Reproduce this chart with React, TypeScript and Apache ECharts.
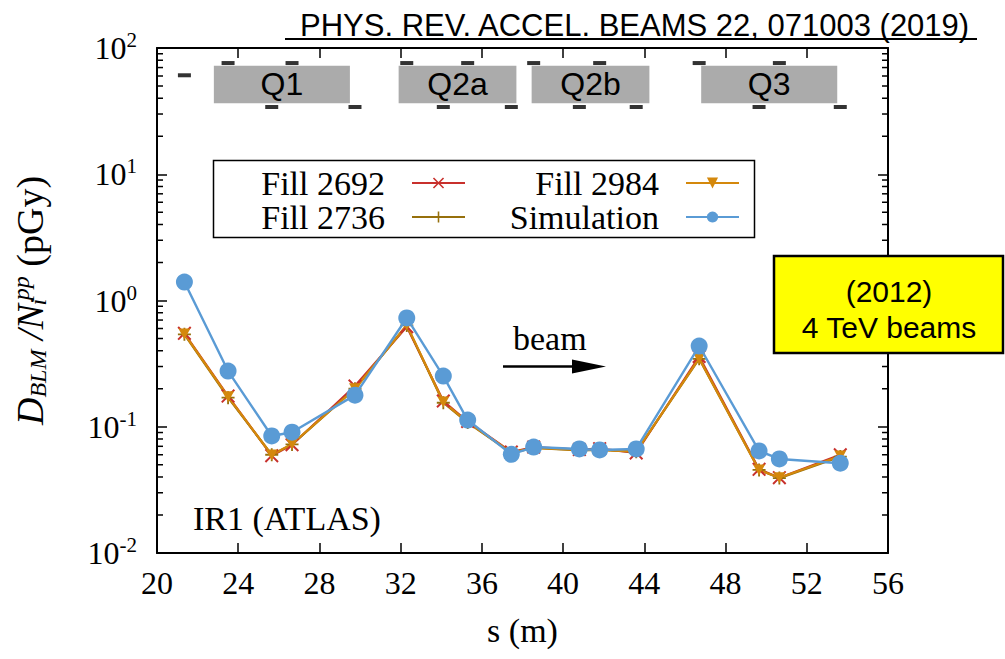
import React, { useEffect, useRef } from 'react';
import * as echarts from 'echarts';

// BLM longitudinal positions s (m)
const sPositions = [21.35, 23.5, 25.65, 26.65, 29.75, 32.3, 34.1, 35.3, 37.45, 38.55, 40.8, 41.8, 43.6, 46.7, 49.65, 50.65, 53.65];
// Dose per collision (pGy)
const fill2692 = [0.55, 0.175, 0.059, 0.072, 0.21, 0.62, 0.16, 0.11, 0.063, 0.069, 0.066, 0.067, 0.062, 0.36, 0.046, 0.0395, 0.06];
const fill2736 = [0.54, 0.17, 0.06, 0.0725, 0.2, 0.635, 0.155, 0.108, 0.062, 0.068, 0.065, 0.0655, 0.0635, 0.345, 0.0455, 0.0392, 0.058];
const fill2984 = [0.543, 0.173, 0.0597, 0.073, 0.2, 0.64, 0.157, 0.109, 0.0625, 0.068, 0.0655, 0.0655, 0.0634, 0.348, 0.0454, 0.0394, 0.0586];
const simulation = [1.4, 0.276, 0.0845, 0.0905, 0.178, 0.727, 0.252, 0.113, 0.0605, 0.0691, 0.0667, 0.0655, 0.0667, 0.436, 0.0643, 0.0556, 0.0514];

// BLM marker rows in the magnet sketch
const blmRows = ['mid', 'top', 'bottom', 'top', 'bottom', 'top', 'bottom', 'top', 'bottom', 'top', 'bottom', 'top', 'bottom', 'top', 'bottom', 'top', 'bottom'];
const blmRowLevel: Record<string, number> = { mid: 60.8, top: 76, bottom: 34.1 };

// Quadrupoles
const quadNames = ['Q1', 'Q2a', 'Q2b', 'Q3'];
const quadStart = [22.8, 31.9, 38.45, 46.8];
const quadEnd = [29.5, 37.7, 44.25, 53.5];
const quadBand = [36.5, 72.4];

// Axis range / minor ticks
const xRange = [20, 56];
const yRange = [0.01, 100];
const yMinorTicks = [
  0.02, 0.03, 0.04, 0.05, 0.06, 0.07, 0.08, 0.09,
  0.2, 0.3, 0.4, 0.5, 0.6, 0.7, 0.8, 0.9,
  2, 3, 4, 5, 6, 7, 8, 9,
  20, 30, 40, 50, 60, 70, 80, 90,
];

const SERIF = "'Liberation Serif', 'DejaVu Serif', serif";
const SANS = "'Liberation Sans', Arial, sans-serif";

const RED = '#c8302c';
const GOLD = '#96700c';
const ORANGE = '#d4880c';
const BLUE = '#5a9bd5';

const X_PATH = 'path://M0,1L1,0L5,4L9,0L10,1L6,5L10,9L9,10L5,6L1,10L0,9L4,5Z';
const PLUS_PATH = 'path://M4.3,0H5.7V4.3H10V5.7H5.7V10H4.3V5.7H0V4.3H4.3Z';
const TRI_DOWN_PATH = 'path://M0,0L10,0L5,8.7Z';

const zip = (xs: number[], ys: number[]) => xs.map((x, i) => [x, ys[i]]);

export default function App() {
  const ref = useRef<HTMLDivElement>(null);

  useEffect(() => {
    if (!ref.current) return;
    const chart = echarts.init(ref.current, null, { renderer: 'svg' });

    const axisLine = { show: true, onZero: false, lineStyle: { color: '#000', width: 2 } };
    const majorTick = { show: true, inside: true, length: 10, lineStyle: { color: '#000', width: 1.5 } };

    const yLabelRich = {
      b: { fontSize: 32, fontFamily: SERIF, color: '#000' },
      s: { fontSize: 21, fontFamily: SERIF, color: '#000', padding: [0, 0, 16, 0] },
    };

    const legendText = { fontFamily: SERIF, fontSize: 34, color: '#000', lineHeight: 34, padding: [0, 22, 0, 0] };

    const fillSeries = (name: string, data: number[], color: string, symbol: string, size: number | number[]) => ({
      name,
      type: 'line',
      data: zip(sPositions, data),
      symbol,
      symbolSize: size,
      showAllSymbol: true,
      itemStyle: { color },
      lineStyle: { color, width: 2.2 },
      z: 3,
    });

    const option: any = {
      animation: false,
      textStyle: { fontFamily: SERIF },
      grid: { left: 157, right: 117, top: 48, bottom: 106, containLabel: false },
      xAxis: [
        {
          type: 'value',
          position: 'bottom',
          min: xRange[0],
          max: xRange[1],
          interval: 4,
          axisLine,
          axisTick: majorTick,
          splitLine: { show: false },
          axisLabel: { fontSize: 32, fontFamily: SERIF, color: '#000', margin: 14 },
          name: 's (m)',
          nameLocation: 'middle',
          nameGap: 60,
          nameTextStyle: { fontSize: 34, fontFamily: SERIF, color: '#000' },
        },
        {
          type: 'value',
          position: 'top',
          min: xRange[0],
          max: xRange[1],
          interval: 4,
          axisLine,
          axisTick: majorTick,
          splitLine: { show: false },
          axisLabel: { show: false },
        },
      ],
      yAxis: [
        {
          type: 'log',
          logBase: 10,
          position: 'left',
          min: yRange[0],
          max: yRange[1],
          axisLine,
          axisTick: majorTick,
          splitLine: { show: false },
          axisLabel: {
            margin: 20,
            formatter: (v: number) => `{b|10}{s|${Math.round(Math.log10(v))}}`,
            rich: yLabelRich,
          },
          name: '{it|D}{sub|BLM}{it| /N}{subi|i}{sup|pp}{rm| (pGy)}',
          nameLocation: 'middle',
          nameGap: 106,
          nameTextStyle: {
            color: '#000',
            rich: {
              it: { fontSize: 38, fontStyle: 'italic', fontFamily: SERIF, color: '#000' },
              sub: { fontSize: 24, fontStyle: 'italic', fontFamily: SERIF, color: '#000', padding: [15, 0, 0, 0] },
              subi: { fontSize: 24, fontStyle: 'italic', fontFamily: SERIF, color: '#000', padding: [15, 0, 0, 0], width: 4 },
              sup: { fontSize: 24, fontStyle: 'italic', fontFamily: SERIF, color: '#000', padding: [0, 0, 18, 0] },
              rm: { fontSize: 38, fontFamily: SERIF, color: '#000' },
            },
          },
        },
        {
          type: 'log',
          logBase: 10,
          position: 'right',
          min: yRange[0],
          max: yRange[1],
          axisLine,
          axisTick: majorTick,
          axisLabel: { show: false },
          splitLine: { show: false },
        },
      ],
      legend: [
        {
          data: ['Fill 2692', 'Fill 2736'],
          orient: 'vertical',
          align: 'right',
          right: 539,
          top: 166,
          itemWidth: 53,
          itemHeight: 14,
          itemGap: 0,
          padding: 0,
          selectedMode: false,
          textStyle: legendText,
        },
        {
          data: ['Fill 2984', 'Simulation'],
          orient: 'vertical',
          align: 'right',
          right: 265,
          top: 166,
          itemWidth: 53,
          itemHeight: 14,
          itemGap: 0,
          padding: 0,
          selectedMode: false,
          textStyle: legendText,
        },
      ],
      series: [
        {
          name: 'minor ticks',
          type: 'custom',
          silent: true,
          clip: false,
          z: 7,
          data: yMinorTicks.map((v) => [xRange[0], v]),
          renderItem: (params: any, api: any) => {
            const yv = api.value(1);
            const l = api.coord([xRange[0], yv]);
            const r = api.coord([xRange[1], yv]);
            const style = { stroke: '#000', lineWidth: 1.5 };
            return {
              type: 'group',
              children: [
                { type: 'line', shape: { x1: l[0], y1: l[1], x2: l[0] + 6, y2: l[1] }, style },
                { type: 'line', shape: { x1: r[0] - 6, y1: r[1], x2: r[0], y2: r[1] }, style },
              ],
            };
          },
        },
        {
          name: 'BLM',
          type: 'scatter',
          data: sPositions.map((s, i) => [s, blmRowLevel[blmRows[i]]]),
          symbol: 'rect',
          symbolSize: [13, 4],
          itemStyle: { color: '#000' },
          silent: true,
          z: 6,
          markArea: {
            silent: true,
            itemStyle: { color: '#ababab', opacity: 1 },
            label: { show: true, position: 'inside', color: '#000', fontSize: 32, fontFamily: SANS },
            data: quadNames.map((n, i) => [
              { name: n, xAxis: quadStart[i], yAxis: quadBand[0] },
              { xAxis: quadEnd[i], yAxis: quadBand[1] },
            ]),
          },
        },
        fillSeries('Fill 2692', fill2692, RED, X_PATH, 14),
        fillSeries('Fill 2736', fill2736, GOLD, PLUS_PATH, 13),
        fillSeries('Fill 2984', fill2984, ORANGE, TRI_DOWN_PATH, [12, 11]),
        {
          name: 'Simulation',
          type: 'line',
          data: zip(sPositions, simulation),
          symbol: 'circle',
          symbolSize: 17,
          showAllSymbol: true,
          itemStyle: { color: BLUE },
          lineStyle: { color: BLUE, width: 2.4 },
          z: 4,
        },
      ],
      graphic: [
        {
          type: 'text',
          x: 300,
          y: 25,
          style: { text: 'PHYS. REV. ACCEL. BEAMS 22, 071003 (2019)', font: `31px ${SANS}`, fill: '#000', textAlign: 'left', textVerticalAlign: 'middle' },
        },
        { type: 'line', shape: { x1: 285, y1: 39, x2: 977, y2: 39 }, style: { stroke: '#000', lineWidth: 2 } },
        {
          type: 'rect',
          shape: { x: 213.5, y: 160.5, width: 541, height: 77 },
          style: { fill: 'none', stroke: '#000', lineWidth: 1.5 },
        },
        {
          type: 'text',
          x: 193,
          y: 518,
          style: { text: 'IR1 (ATLAS)', font: `34px ${SERIF}`, fill: '#000', textAlign: 'left', textVerticalAlign: 'middle' },
        },
        {
          type: 'text',
          x: 513,
          y: 338,
          style: { text: 'beam', font: `34px ${SERIF}`, fill: '#000', textAlign: 'left', textVerticalAlign: 'middle' },
        },
        { type: 'line', shape: { x1: 503, y1: 366.5, x2: 580, y2: 366.5 }, style: { stroke: '#000', lineWidth: 2.5 } },
        { type: 'polygon', shape: { points: [[572, 359.5], [606, 366.5], [572, 373.5]] }, style: { fill: '#000' } },
        {
          type: 'rect',
          z: 100,
          shape: { x: 774, y: 256, width: 229, height: 97 },
          style: { fill: '#ffff00', stroke: '#000', lineWidth: 2.5 },
        },
        {
          type: 'text',
          z: 101,
          x: 889,
          y: 291,
          style: { text: '(2012)', font: `30px ${SANS}`, fill: '#000', textAlign: 'center', textVerticalAlign: 'middle' },
        },
        {
          type: 'text',
          z: 101,
          x: 889,
          y: 327,
          style: { text: '4 TeV beams', font: `30px ${SANS}`, fill: '#000', textAlign: 'center', textVerticalAlign: 'middle' },
        },
      ],
    };

    chart.setOption(option);
    return () => chart.dispose();
  }, []);

  return <div ref={ref} style={{ position: 'fixed', left: 0, top: 0, width: 1005, height: 659, background: '#fff' }} />;
}
